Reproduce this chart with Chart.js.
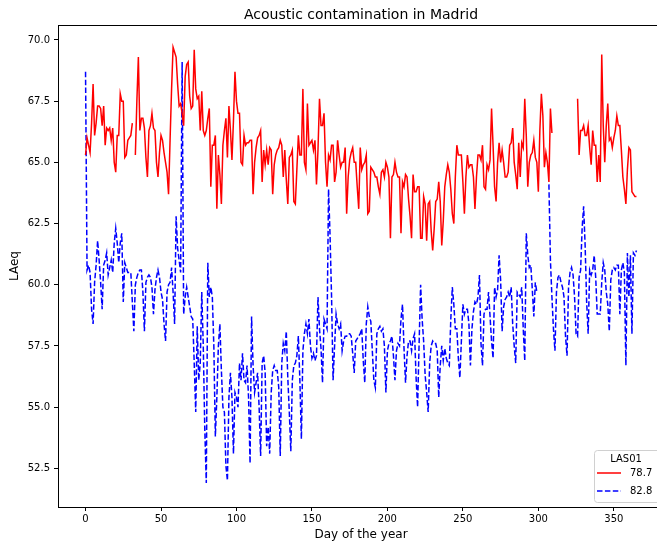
<!DOCTYPE html>
<html>
<head>
<meta charset="utf-8">
<title>Acoustic contamination in Madrid</title>
<script src="https://cdn.jsdelivr.net/npm/chart.js@4.4.1/dist/chart.umd.min.js"></script>
<style>
  html, body { margin: 0; padding: 0; background: #fff; overflow: hidden; }
  canvas { display: block; }
</style>
</head>
<body>
<canvas id="chart" width="670" height="544"></canvas>
<script>
/* LAeq daily levels, station LAS01 */

const FONT = "'DejaVu Sans', sans-serif";

const xTicks = [0, 50, 100, 150, 200, 250, 300, 350];
const yTicks = [52.5, 55, 57.5, 60, 62.5, 65, 67.5, 70];
const seriesNames = ["78.7", "82.8"];
const legendTitle = "LAS01";

// one value per day, 0..365 (null = no measurement)
const red = [
  65.3, 66.0, 65.7, 65.4, 66.6, 68.2, 66.1, 66.6, 67.3, 67.3,
  67.2, 66.5, 67.3, 65.7, 66.4, 66.3, 66.4, 65.9, 66.4, 65.0,
  64.6, 66.1, 66.1, 67.8, 67.5, 67.5, 65.2, 65.3, 65.9, 66.0,
  66.1, 66.6, null, 65.3, 67.5, 69.3, 66.3, 66.8, 66.8, 66.4,
  65.2, 64.4, 66.3, 66.5, 67.0, 66.4, 66.3, 65.0, 64.4, 65.4,
  66.1, 65.9, 65.4, 65.0, 64.6, 63.7, 65.9, 68.0, 69.7, 69.5,
  69.3, 68.2, 67.3, 67.4, 67.0, 66.5, 68.5, 69.0, 69.1, 67.7,
  67.2, 67.3, 69.6, 68.0, 67.6, 67.7, 66.3, 67.9, 66.3, 66.1,
  66.3, 66.8, 67.2, 64.0, 65.7, 65.7, 66.1, 63.1, 65.3, 64.5,
  63.3, 65.7, 66.3, 66.8, 65.2, 67.3, 66.3, 65.1, 66.7, 68.7,
  67.5, 67.0, 67.0, 65.0, 64.9, 66.1, 65.7, 65.8, 65.8, 65.9,
  65.9, 63.7, 65.0, 65.6, 66.0, 66.1, 66.3, 64.2, 65.5, 64.9,
  65.5, 64.9, 65.6, 65.5, 63.7, 64.9, 65.3, 65.5, 65.6, 65.9,
  65.7, 64.4, 65.5, 64.3, 63.3, 65.2, 65.3, 65.5, 63.4, 63.3,
  64.7, 66.1, 65.3, 65.3, 68.0, 65.0, 64.7, 67.4, 65.7, 65.8,
  65.9, 65.5, 65.9, 64.1, 65.5, 67.6, 66.5, 66.5, 67.0, 65.0,
  64.0, 65.3, 65.1, 65.7, 65.7, 64.2, 64.6, 65.9, 65.3, 64.8,
  65.0, 65.0, 65.6, 62.9, 64.4, 65.1, 65.4, 65.6, 65.0, 65.0,
  64.0, 63.1, 65.6, 64.7, 64.9, 65.0, 65.3, 62.9, 63.0, 64.8,
  64.7, 64.6, 64.4, 64.4, 64.0, 63.7, 64.6, 64.7, 64.4, 65.0,
  64.8, 64.4, 61.9, 64.4, 64.5, 65.0, 64.6, 64.4, 64.4, 62.1,
  64.2, 64.0, 64.5, 64.4, 63.5, 62.8, 61.9, 64.5, 63.8, 63.8,
  64.0, 64.0, 61.9, 61.9, 63.6, 63.3, 61.8, 63.3, 63.4, 62.2,
  61.4, 62.3, 63.4, 63.5, 64.2, 63.4, 61.6, 62.6, 64.0, 64.5,
  64.9, 64.6, 63.9, 62.9, 62.5, 64.4, 65.7, 65.3, 65.3, 65.3,
  64.2, 62.9, 64.4, 65.3, 64.8, 64.9, 64.9, 64.4, 63.1, 64.4,
  65.3, 65.3, 65.1, 65.7, 64.0, 63.9, 64.9, 64.7, 65.1, 67.2,
  65.7, 64.0, 63.4, 65.0, 65.8, 65.0, 65.5, 65.0, 64.4, 64.4,
  64.6, 65.7, 65.8, 66.4, 65.0, 64.5, 63.9, 65.8, 64.4, 65.8,
  65.6, 67.6, 66.1, 64.0, 65.0, 65.3, 65.4, 65.9, 65.2, 65.0,
  63.8, 66.3, 67.8, 66.9, 64.8, 65.4, 65.0, 64.2, 67.2, 66.2,
  null, null, null, null, null, null, null, null, null, null,
  null, null, null, null, null, null, 67.6, 65.3, 66.3, 66.3,
  66.5, 66.1, 66.1, 66.5, 65.6, 64.9, 66.3, 65.7, 65.7, 64.2,
  65.3, 64.2, 69.4, 66.5, 65.0, 66.5, 67.4, 65.9, 66.0, 65.6,
  66.0, 66.3, 66.9, 66.5, 66.5, 65.5, 64.4, 63.9, 63.3, 64.7,
  65.6, 65.5, 63.8, 63.7, 63.6, 63.6
];

const blue = [
  68.7, 60.6, 60.8, 60.5, 59.0, 58.4, 60.1, 60.8, 61.8, 61.0,
  60.1, 59.0, 60.8, 61.0, 61.3, 60.4, 60.7, 61.0, 60.5, 61.7,
  62.3, 61.7, 60.9, 61.7, 62.1, 59.3, 60.9, 60.7, 60.5, 60.5,
  60.5, 59.3, 58.1, 60.0, 60.3, 60.5, 60.6, 60.6, 59.7, 58.1,
  60.1, 60.3, 60.4, 60.3, 59.9, 58.8, 59.8, 60.3, 60.6, 60.3,
  59.7, 59.4, 58.4, 57.7, 59.7, 60.0, 60.1, 60.7, 59.7, 58.4,
  62.8, 61.5, 61.0, 60.5, 69.1, 58.8, 59.5, 59.9, 59.5, 59.1,
  58.7, 58.6, 56.8, 54.8, 58.3, 56.1, 56.8, 59.7, 57.5, 54.1,
  51.9, 60.9, 59.5, 59.9, 59.5, 57.5, 53.8, 55.4, 57.5, 58.4,
  56.5, 55.0, 54.8, 52.6, 52.0, 55.4, 56.4, 55.4, 53.1, 55.6,
  55.4, 55.0, 56.8, 56.1, 57.2, 56.1, 56.0, 56.7, 55.4, 52.7,
  58.7, 56.7, 55.6, 56.0, 56.4, 55.0, 53.0, 56.8, 57.1, 56.4,
  53.4, 54.2, 53.1, 55.6, 56.5, 56.7, 56.5, 56.5, 55.8, 53.0,
  56.8, 57.6, 57.3, 58.1, 56.2, 54.8, 53.2, 56.1, 56.7, 56.8,
  57.1, 57.9, 56.1, 53.7, 57.3, 58.0, 58.4, 58.0, 58.6, 57.5,
  57.0, 57.2, 56.9, 57.1, 59.5, 58.2, 57.4, 56.0, 58.6, 58.4,
  58.2, 63.9, 62.0, 59.5, 56.1, 57.5, 58.8, 58.4, 58.2, 58.4,
  57.3, 57.7, 57.9, 57.9, 58.0, 58.0, 57.9, 57.2, 56.4, 57.7,
  57.8, 57.9, 58.0, 58.2, 56.9, 56.0, 58.4, 59.1, 58.7, 58.5,
  57.3, 56.1, 55.8, 58.0, 58.2, 58.3, 58.1, 58.2, 57.5, 55.6,
  57.3, 57.6, 57.7, 57.9, 57.1, 56.1, 57.3, 57.6, 57.5, 58.6,
  59.2, 57.4, 56.0, 57.1, 57.7, 57.7, 57.3, 57.8, 58.0, 56.2,
  55.0, 57.6, 60.0, 58.6, 57.7, 56.3, 55.6, 54.8, 56.8, 57.5,
  57.7, 57.6, 57.6, 57.3, 55.4, 56.7, 57.5, 56.9, 57.4, 57.0,
  56.8, 56.7, 58.6, 59.9, 59.2, 58.2, 58.2, 57.0, 56.2, 57.7,
  59.2, 58.8, 59.0, 59.0, 58.4, 56.7, 58.2, 58.9, 59.3, 59.2,
  59.5, 60.4, 57.6, 56.7, 58.8, 59.0, 59.0, 59.7, 58.7, 57.7,
  57.0, 59.9, 59.5, 59.8, 61.2, 60.2, 58.1, 59.1, 59.4, 59.5,
  59.7, 59.5, 59.9, 58.4, 57.5, 56.8, 59.7, 59.6, 59.5, 59.9,
  58.2, 56.9, 62.1, 61.2, 60.7, 60.8, 59.8, 58.7, 60.1, 59.7,
  null, null, null, null, null, null, null, 64.1, 61.0, 59.5,
  58.2, 57.3, 59.7, 60.3, 60.4, 60.1, 59.9, 59.5, 57.9, 57.1,
  59.9, 60.5, 60.7, 60.4, 59.5, 58.0, 57.9, 60.3, 60.6, 62.3,
  63.2, 61.6, 59.3, 58.0, 60.6, 60.4, 60.6, 61.2, 60.3, 58.8,
  58.8, 58.8, 60.1, 60.9, 60.6, 59.7, 59.2, 58.1, 60.2, 60.6,
  60.7, 60.6, 60.8, 60.8, 58.8, 60.6, 60.9, 60.5, 56.7, 61.3,
  59.5, 61.2, 58.0, 61.3, 61.2, 61.4
];

const days = red.map((_, i) => i);
const toPoints = (vals) => vals.map((v, i) => ({ x: days[i], y: v }));

// axes frame on all four sides, like a matplotlib box
const framePlugin = {
  id: "frame",
  afterDatasetsDraw(chart) {
    const { ctx, chartArea: a } = chart;
    ctx.save();
    ctx.strokeStyle = "#000";
    ctx.lineWidth = 1;
    ctx.strokeRect(Math.round(a.left) + 0.5, Math.round(a.top) + 0.5,
      Math.round(a.right - a.left), Math.round(a.bottom - a.top));
    ctx.restore();
  }
};

// legend box with title, lower right inside the axes
const boxLegend = {
  id: "boxLegend",
  afterDraw(chart) {
    const { ctx, chartArea: a } = chart;
    const w = 66, h = 52;
    const x = a.right - 4 - w, y = a.bottom - 5 - h;
    ctx.save();
    ctx.beginPath();
    ctx.roundRect(x + 0.5, y + 0.5, w, h, 3);
    ctx.fillStyle = "rgba(255,255,255,0.8)";
    ctx.fill();
    ctx.strokeStyle = "#d0d0d0";
    ctx.lineWidth = 1;
    ctx.stroke();

    ctx.font = "10px " + FONT;
    ctx.fillStyle = "#000";
    ctx.textBaseline = "middle";
    ctx.textAlign = "center";
    ctx.fillText(legendTitle, x + w / 2 - 1, y + 9);
    ctx.textAlign = "left";
    chart.data.datasets.forEach((ds, i) => {
      const ly = y + 23 + i * 18;
      ctx.beginPath();
      ctx.setLineDash(ds.borderDash || []);
      ctx.strokeStyle = ds.borderColor;
      ctx.lineWidth = ds.borderWidth;
      ctx.moveTo(x + 3, ly);
      ctx.lineTo(x + 27, ly);
      ctx.stroke();
      ctx.setLineDash([]);
      ctx.fillText(ds.label, x + 36, ly);
    });
    ctx.restore();
  }
};

const tickFont = { family: FONT, size: 10 };
const axisGrid = { drawOnChartArea: false, drawTicks: true, tickLength: 4, color: "#000" };

new Chart(document.getElementById("chart"), {
  type: "line",
  data: {
    datasets: [
      {
        label: seriesNames[0],
        data: toPoints(red),
        borderColor: "#ff0000",
        borderWidth: 1.5,
        pointRadius: 0,
        spanGaps: false
      },
      {
        label: seriesNames[1],
        data: toPoints(blue),
        borderColor: "#0000ff",
        borderWidth: 1.5,
        borderDash: [5.5, 2.4],
        pointRadius: 0,
        spanGaps: false
      }
    ]
  },
  options: {
    responsive: false,
    animation: false,
    events: [],
    layout: { padding: { left: 0, right: 6, top: 0, bottom: 0 } },
    elements: { line: { tension: 0 } },
    plugins: {
      legend: { display: false },
      tooltip: { enabled: false },
      title: {
        display: true,
        text: "Acoustic contamination in Madrid",
        color: "#000",
        fullSize: false,
        font: { family: FONT, size: 14, weight: "normal" },
        padding: { top: 7, bottom: 1.2 }
      }
    },
    scales: {
      x: {
        type: "linear",
        min: -18.25,
        max: 383.25,
        afterBuildTicks: (s) => { s.ticks = xTicks.map(v => ({ value: v })); },
        afterFit: (s) => { s.height = 37; },
        grid: axisGrid,
        border: { display: false },
        ticks: { color: "#000", font: tickFont, padding: 2, maxRotation: 0 },
        title: {
          display: true, text: "Day of the year", color: "#000",
          font: { family: FONT, size: 12 }, padding: { top: 0, bottom: 2 }
        }
      },
      y: {
        type: "linear",
        min: 50.92,
        max: 70.61,
        afterBuildTicks: (s) => { s.ticks = yTicks.map(v => ({ value: v })); },
        afterFit: (s) => { s.width = 58; },
        grid: axisGrid,
        border: { display: false },
        ticks: { color: "#000", font: tickFont, padding: 4, callback: (v) => v.toFixed(1) },
        title: {
          display: true, text: "LAeq", color: "#000",
          font: { family: FONT, size: 12 }, padding: { top: 8, bottom: 0 }
        }
      }
    }
  },
  plugins: [framePlugin, boxLegend]
});
</script>
</body>
</html>
